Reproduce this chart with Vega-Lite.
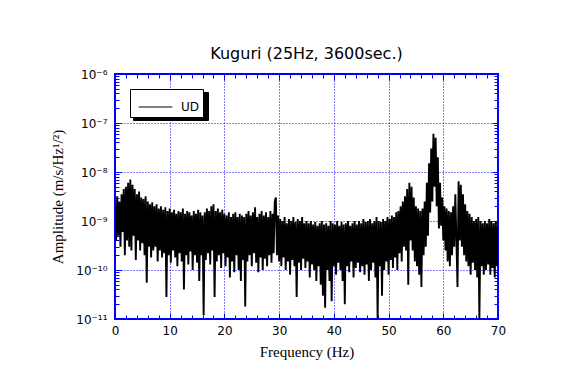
{
"$schema": "https://vega.github.io/schema/vega-lite/v6.json",
"width": 383,
"height": 245,
"autosize": {"type": "none"},
"padding": {"left": 115, "top": 74, "right": 77, "bottom": 49},
"background": "white",
"title": {"text": "Kuguri (25Hz, 3600sec.)", "font": "DejaVu Sans", "fontSize": 16, "fontWeight": "normal", "color": "black", "anchor": "middle", "offset": 6},
"config": {"view": {"stroke": "#0000ff", "strokeWidth": 2}},
"data": {"values": [
{"f":0,"a":2.0e-9},{"f":0.2,"a":4.0e-10},{"f":0.4,"a":3.2e-9},{"f":0.6,"a":5.0e-10},{"f":0.8,"a":2.5e-9},{"f":1.0,"a":3.0e-10},{"f":1.2,"a":3.5e-9},{"f":1.4,"a":6.0e-10},{"f":1.6,"a":4.5e-9},{"f":1.8,"a":2.0e-10},
{"f":2.0,"a":5.0e-9},{"f":2.2,"a":4.0e-10},{"f":2.4,"a":6.0e-9},{"f":2.6,"a":3.0e-10},{"f":2.8,"a":7.0e-9},{"f":3.0,"a":2.5e-10},{"f":3.2,"a":5.5e-9},{"f":3.4,"a":5.0e-10},{"f":3.6,"a":4.5e-9},{"f":3.8,"a":1.6e-10},
{"f":4.0,"a":3.5e-9},{"f":4.2,"a":4.0e-10},{"f":4.4,"a":4.0e-9},{"f":4.6,"a":2.5e-10},{"f":4.8,"a":3.0e-9},{"f":5.0,"a":3.5e-10},{"f":5.2,"a":2.8e-9},{"f":5.4,"a":2.0e-10},{"f":5.6,"a":3.2e-9},{"f":5.8,"a":5.5e-11},
{"f":6.0,"a":2.5e-9},{"f":6.2,"a":3.0e-10},{"f":6.4,"a":2.2e-9},{"f":6.6,"a":1.8e-10},{"f":6.8,"a":2.4e-9},{"f":7.0,"a":2.5e-10},{"f":7.2,"a":2.0e-9},{"f":7.4,"a":3.0e-10},{"f":7.6,"a":2.2e-9},{"f":7.8,"a":1.5e-10},
{"f":8.0,"a":1.8e-9},{"f":8.2,"a":2.5e-10},{"f":8.4,"a":2.0e-9},{"f":8.6,"a":1.8e-10},{"f":8.8,"a":1.7e-9},{"f":9.0,"a":2.2e-10},{"f":9.2,"a":1.9e-9},{"f":9.4,"a":2.8e-11},{"f":9.6,"a":1.6e-9},{"f":9.8,"a":2.0e-10},
{"f":10.0,"a":1.8e-9},{"f":10.2,"a":1.4e-10},{"f":10.4,"a":1.5e-9},{"f":10.6,"a":2.5e-10},{"f":10.8,"a":1.7e-9},{"f":11.0,"a":1.8e-10},{"f":11.2,"a":1.4e-9},{"f":11.4,"a":1.2e-10},{"f":11.6,"a":1.6e-9},{"f":11.8,"a":2.2e-10},
{"f":12.0,"a":1.5e-9},{"f":12.2,"a":1.5e-10},{"f":12.4,"a":1.8e-9},{"f":12.6,"a":4.0e-11},{"f":12.8,"a":1.4e-9},{"f":13.0,"a":2.0e-10},{"f":13.2,"a":1.6e-9},{"f":13.4,"a":1.3e-10},{"f":13.6,"a":1.5e-9},{"f":13.8,"a":2.4e-10},
{"f":14.0,"a":1.3e-9},{"f":14.2,"a":1.0e-10},{"f":14.4,"a":1.6e-9},{"f":14.6,"a":2.0e-10},{"f":14.8,"a":1.4e-9},{"f":15.0,"a":1.4e-10},{"f":15.2,"a":1.7e-9},{"f":15.4,"a":6.0e-11},{"f":15.6,"a":1.5e-9},{"f":15.8,"a":2.0e-10},
{"f":16.0,"a":1.3e-9},{"f":16.2,"a":1.2e-11},{"f":16.4,"a":1.5e-9},{"f":16.6,"a":1.6e-10},{"f":16.8,"a":1.8e-9},{"f":17.0,"a":2.2e-10},{"f":17.2,"a":1.6e-9},{"f":17.4,"a":1.3e-10},{"f":17.6,"a":2.0e-9},{"f":17.8,"a":2.5e-10},
{"f":18.0,"a":2.2e-9},{"f":18.2,"a":2.8e-11},{"f":18.4,"a":1.6e-9},{"f":18.6,"a":1.5e-10},{"f":18.8,"a":1.8e-9},{"f":19.0,"a":2.0e-10},{"f":19.2,"a":1.5e-9},{"f":19.4,"a":1.1e-10},{"f":19.6,"a":1.7e-9},{"f":19.8,"a":2.2e-10},
{"f":20.0,"a":1.4e-9},{"f":20.2,"a":1.2e-10},{"f":20.4,"a":1.3e-9},{"f":20.6,"a":1.8e-10},{"f":20.8,"a":1.5e-9},{"f":21.0,"a":7.0e-11},{"f":21.2,"a":1.2e-9},{"f":21.4,"a":1.5e-10},{"f":21.6,"a":1.4e-9},{"f":21.8,"a":9.0e-11},
{"f":22.0,"a":1.5e-9},{"f":22.2,"a":2.0e-10},{"f":22.4,"a":1.2e-9},{"f":22.6,"a":1.0e-10},{"f":22.8,"a":1.4e-9},{"f":23.0,"a":6.0e-11},{"f":23.2,"a":1.3e-9},{"f":23.4,"a":1.6e-10},{"f":23.6,"a":1.2e-9},{"f":23.8,"a":1.8e-11},
{"f":24.0,"a":1.4e-9},{"f":24.2,"a":1.5e-10},{"f":24.4,"a":1.6e-9},{"f":24.6,"a":2.0e-10},{"f":24.8,"a":1.3e-9},{"f":25.0,"a":1.2e-10},{"f":25.2,"a":1.5e-9},{"f":25.4,"a":2.2e-10},{"f":25.6,"a":1.9e-9},{"f":25.8,"a":1.4e-10},
{"f":26.0,"a":1.2e-9},{"f":26.2,"a":9.0e-11},{"f":26.4,"a":1.4e-9},{"f":26.6,"a":1.8e-10},{"f":26.8,"a":1.6e-9},{"f":27.0,"a":1.0e-10},{"f":27.2,"a":1.3e-9},{"f":27.4,"a":1.7e-10},{"f":27.6,"a":1.5e-9},{"f":27.8,"a":1.2e-10},
{"f":28.0,"a":1.2e-9},{"f":28.2,"a":2.0e-10},{"f":28.4,"a":1.6e-9},{"f":28.6,"a":1.4e-10},{"f":28.8,"a":1.4e-9},{"f":29.0,"a":2.2e-10},{"f":29.2,"a":2.5e-9},{"f":29.4,"a":3.0e-9},{"f":29.6,"a":2.0e-10},{"f":29.8,"a":1.3e-9},
{"f":30.0,"a":1.5e-10},{"f":30.2,"a":1.1e-9},{"f":30.4,"a":1.2e-10},{"f":30.6,"a":1.0e-9},{"f":30.8,"a":1.8e-10},{"f":31.0,"a":1.2e-9},{"f":31.2,"a":1.0e-10},{"f":31.4,"a":9.0e-10},{"f":31.6,"a":1.5e-10},{"f":31.8,"a":1.1e-9},
{"f":32.0,"a":8.0e-11},{"f":32.2,"a":1.0e-9},{"f":32.4,"a":1.6e-10},{"f":32.6,"a":1.2e-9},{"f":32.8,"a":1.2e-10},{"f":33.0,"a":9.5e-10},{"f":33.2,"a":2.8e-11},{"f":33.4,"a":1.1e-9},{"f":33.6,"a":1.4e-10},{"f":33.8,"a":1.0e-9},
{"f":34.0,"a":1.0e-10},{"f":34.2,"a":1.2e-9},{"f":34.4,"a":1.7e-10},{"f":34.6,"a":9.0e-10},{"f":34.8,"a":1.1e-10},{"f":35.0,"a":1.0e-9},{"f":35.2,"a":1.5e-10},{"f":35.4,"a":9.0e-10},{"f":35.6,"a":7.0e-11},{"f":35.8,"a":1.0e-9},
{"f":36.0,"a":1.3e-10},{"f":36.2,"a":8.5e-10},{"f":36.4,"a":1.0e-10},{"f":36.6,"a":9.5e-10},{"f":36.8,"a":6.0e-11},{"f":37.0,"a":8.0e-10},{"f":37.2,"a":1.2e-10},{"f":37.4,"a":9.0e-10},{"f":37.6,"a":5.0e-11},{"f":37.8,"a":1.0e-9},
{"f":38.0,"a":3.0e-11},{"f":38.2,"a":8.5e-10},{"f":38.4,"a":1.7e-11},{"f":38.6,"a":9.0e-10},{"f":38.8,"a":1.0e-10},{"f":39.0,"a":8.0e-10},{"f":39.2,"a":6.0e-11},{"f":39.4,"a":1.0e-9},{"f":39.6,"a":2.3e-11},{"f":39.8,"a":9.0e-10},
{"f":40.0,"a":1.2e-10},{"f":40.2,"a":8.5e-10},{"f":40.4,"a":8.0e-11},{"f":40.6,"a":1.0e-9},{"f":40.8,"a":1.4e-10},{"f":41.0,"a":8.0e-10},{"f":41.2,"a":1.0e-10},{"f":41.4,"a":9.5e-10},{"f":41.6,"a":6.0e-11},{"f":41.8,"a":8.5e-10},
{"f":42.0,"a":2.0e-11},{"f":42.2,"a":9.0e-10},{"f":42.4,"a":1.2e-10},{"f":42.6,"a":1.0e-9},{"f":42.8,"a":9.0e-11},{"f":43.0,"a":8.0e-10},{"f":43.2,"a":1.5e-10},{"f":43.4,"a":9.0e-10},{"f":43.6,"a":7.0e-11},{"f":43.8,"a":1.0e-9},
{"f":44.0,"a":1.1e-10},{"f":44.2,"a":8.5e-10},{"f":44.4,"a":1.4e-10},{"f":44.6,"a":1.0e-9},{"f":44.8,"a":9.0e-11},{"f":45.0,"a":9.0e-10},{"f":45.2,"a":1.2e-10},{"f":45.4,"a":1.1e-9},{"f":45.6,"a":8.0e-11},{"f":45.8,"a":9.5e-10},
{"f":46.0,"a":1.3e-10},{"f":46.2,"a":1.0e-9},{"f":46.4,"a":6.0e-11},{"f":46.6,"a":1.1e-9},{"f":46.8,"a":1.0e-10},{"f":47.0,"a":9.0e-10},{"f":47.2,"a":1.4e-10},{"f":47.4,"a":1.0e-9},{"f":47.6,"a":7.0e-11},{"f":47.8,"a":1.2e-9},
{"f":48.0,"a":1.0e-11},{"f":48.2,"a":1.0e-9},{"f":48.4,"a":1.2e-10},{"f":48.6,"a":9.5e-10},{"f":48.8,"a":3.0e-11},{"f":49.0,"a":1.1e-9},{"f":49.2,"a":1.0e-10},{"f":49.4,"a":1.0e-9},{"f":49.6,"a":1.5e-10},{"f":49.8,"a":1.2e-9},
{"f":50.0,"a":8.0e-11},{"f":50.2,"a":1.1e-9},{"f":50.4,"a":1.6e-10},{"f":50.6,"a":1.3e-9},{"f":50.8,"a":1.1e-10},{"f":51.0,"a":1.2e-9},{"f":51.2,"a":1.8e-10},{"f":51.4,"a":1.5e-9},{"f":51.6,"a":1.0e-10},{"f":51.8,"a":1.6e-9},
{"f":52.0,"a":2.2e-10},{"f":52.2,"a":2.0e-9},{"f":52.4,"a":1.5e-10},{"f":52.6,"a":2.5e-9},{"f":52.8,"a":3.0e-10},{"f":53.0,"a":3.2e-9},{"f":53.2,"a":2.5e-10},{"f":53.4,"a":4.5e-9},{"f":53.6,"a":5.0e-11},{"f":53.8,"a":6.0e-9},
{"f":54.0,"a":4.0e-10},{"f":54.2,"a":5.0e-9},{"f":54.4,"a":2.5e-10},{"f":54.6,"a":3.0e-9},{"f":54.8,"a":1.5e-10},{"f":55.0,"a":2.0e-9},{"f":55.2,"a":1.2e-10},{"f":55.4,"a":1.8e-9},{"f":55.6,"a":8.0e-11},{"f":55.8,"a":1.6e-9},
{"f":56.0,"a":4.5e-11},{"f":56.2,"a":1.8e-9},{"f":56.4,"a":2.0e-10},{"f":56.6,"a":2.5e-9},{"f":56.8,"a":3.0e-10},{"f":57.0,"a":6.0e-9},{"f":57.2,"a":5.0e-10},{"f":57.4,"a":1.5e-8},{"f":57.6,"a":1.5e-9},{"f":57.8,"a":3.0e-8},
{"f":58.0,"a":2.5e-9},{"f":58.2,"a":6.0e-8},{"f":58.4,"a":5.0e-9},{"f":58.6,"a":5.0e-8},{"f":58.8,"a":2.0e-9},{"f":59.0,"a":2.0e-8},{"f":59.2,"a":7.0e-10},{"f":59.4,"a":6.0e-9},{"f":59.6,"a":8.0e-10},{"f":59.8,"a":3.0e-9},
{"f":60.0,"a":4.0e-10},{"f":60.2,"a":2.0e-9},{"f":60.4,"a":2.5e-10},{"f":60.6,"a":1.8e-9},{"f":60.8,"a":1.5e-10},{"f":61.0,"a":1.6e-9},{"f":61.2,"a":1.2e-10},{"f":61.4,"a":1.5e-9},{"f":61.6,"a":2.0e-10},{"f":61.8,"a":2.0e-9},
{"f":62.0,"a":3.0e-10},{"f":62.2,"a":3.5e-9},{"f":62.4,"a":4.0e-10},{"f":62.6,"a":4.5e-11},{"f":62.8,"a":6.5e-9},{"f":63.0,"a":4.0e-10},{"f":63.2,"a":5.5e-9},{"f":63.4,"a":3.0e-10},{"f":63.6,"a":3.5e-9},{"f":63.8,"a":2.0e-10},
{"f":64.0,"a":2.2e-9},{"f":64.2,"a":1.5e-10},{"f":64.4,"a":1.6e-9},{"f":64.6,"a":1.2e-10},{"f":64.8,"a":1.4e-9},{"f":65.0,"a":8.0e-11},{"f":65.2,"a":1.2e-9},{"f":65.4,"a":1.4e-10},{"f":65.6,"a":1.0e-9},{"f":65.8,"a":1.0e-10},
{"f":66.0,"a":1.1e-9},{"f":66.2,"a":7.0e-11},{"f":66.4,"a":1.2e-9},{"f":66.6,"a":1.0e-11},{"f":66.8,"a":1.0e-9},{"f":67.0,"a":1.2e-10},{"f":67.2,"a":9.0e-10},{"f":67.4,"a":8.0e-11},{"f":67.6,"a":1.0e-9},{"f":67.8,"a":1.0e-10},
{"f":68.0,"a":9.0e-10},{"f":68.2,"a":1.3e-10},{"f":68.4,"a":1.1e-9},{"f":68.6,"a":8.0e-11},{"f":68.8,"a":1.0e-9},{"f":69.0,"a":1.1e-10},{"f":69.2,"a":9.0e-10},{"f":69.4,"a":7.0e-11},{"f":69.6,"a":1.0e-9},{"f":69.8,"a":1.2e-10},
{"f":70.0,"a":8.0e-10}
]},
"layer": [
{
"mark": {"type": "line", "opacity": 0},
"encoding": {
"x": {"field": "f", "type": "quantitative",
"axis": {"orient": "top", "title": null, "labels": false, "domain": false, "grid": false,
"values": [0,2,4,6,8,10,12,14,16,18,20,22,24,26,28,30,32,34,36,38,40,42,44,46,48,50,52,54,56,58,60,62,64,66,68,70],
"tickColor": "#0000ff", "tickSize": {"condition": {"test": "datum.value % 10 === 0", "value": -6}, "value": -4}}},
"y": {"field": "a", "type": "quantitative",
"axis": {"orient": "right", "title": null, "labels": false, "domain": false, "grid": false,
"values": [1e-11,2e-11,3e-11,4e-11,5e-11,6e-11,7e-11,8e-11,9e-11,1e-10,2e-10,3e-10,4e-10,5e-10,6e-10,7e-10,8e-10,9e-10,1e-9,2e-9,3e-9,4e-9,5e-9,6e-9,7e-9,8e-9,9e-9,1e-8,2e-8,3e-8,4e-8,5e-8,6e-8,7e-8,8e-8,9e-8,1e-7,2e-7,3e-7,4e-7,5e-7,6e-7,7e-7,8e-7,9e-7,1e-6],
"tickColor": "#0000ff", "tickSize": {"condition": {"test": "abs(log(datum.value)/LN10 - round(log(datum.value)/LN10)) < 0.001", "value": -6}, "value": -4}}},
"color": {"datum": "shadow", "type": "nominal", "scale": {"range": ["black"]},
"legend": {"title": null, "orient": "none", "legendX": 18, "legendY": 18, "fillColor": "black", "strokeColor": "black", "padding": 3.5,
"symbolType": "M-1.2,0H1.2", "symbolSize": 784, "symbolOffset": 7.5, "symbolStrokeWidth": 1, "labelFont": "DejaVu Sans", "labelFontSize": 12, "labelColor": "black", "labelOffset": 31, "labelExpr": "'\u00a0\u00a0\u00a0\u00a0\u00a0\u00a0\u00a0'", "cornerRadius": 0}}
}
},
{
"mark": {"type": "line", "strokeWidth": 1.9, "strokeJoin": "bevel", "clip": true},
"encoding": {
"x": {"field": "f", "type": "quantitative", "title": "Frequency (Hz)",
"scale": {"domain": [0, 70], "nice": false, "zero": false},
"axis": {"orient": "bottom", "values": [0,2,4,6,8,10,12,14,16,18,20,22,24,26,28,30,32,34,36,38,40,42,44,46,48,50,52,54,56,58,60,62,64,66,68,70],
"labelExpr": "datum.value % 10 === 0 ? datum.label : ''",
"domain": false, "grid": true, "gridColor": "#0000ff", "gridDash": [1, 2], "gridWidth": 1,
"gridOpacity": {"condition": {"test": "datum.value % 10 === 0", "value": 1}, "value": 0},
"tickColor": "#0000ff", "tickWidth": 1,
"tickSize": {"condition": {"test": "datum.value % 10 === 0", "value": -6}, "value": -4},
"labelFont": "DejaVu Sans", "labelFontSize": 12, "labelColor": "black", "labelPadding": 12, "labelFlush": false,
"titleFont": "Liberation Serif", "titleFontSize": 15, "titleFontWeight": "normal", "titleColor": "black", "titlePadding": 8}},
"y": {"field": "a", "type": "quantitative", "title": "Amplitude (m/s/Hz¹/²)",
"scale": {"type": "log", "domain": [1e-11, 1e-6], "nice": false},
"axis": {"orient": "left", "values": [1e-11,2e-11,3e-11,4e-11,5e-11,6e-11,7e-11,8e-11,9e-11,1e-10,2e-10,3e-10,4e-10,5e-10,6e-10,7e-10,8e-10,9e-10,1e-9,2e-9,3e-9,4e-9,5e-9,6e-9,7e-9,8e-9,9e-9,1e-8,2e-8,3e-8,4e-8,5e-8,6e-8,7e-8,8e-8,9e-8,1e-7,2e-7,3e-7,4e-7,5e-7,6e-7,7e-7,8e-7,9e-7,1e-6],
"labelExpr": "datum.value == 1e-6 ? '10⁻⁶' : datum.value == 1e-7 ? '10⁻⁷' : datum.value == 1e-8 ? '10⁻⁸' : datum.value == 1e-9 ? '10⁻⁹' : datum.value == 1e-10 ? '10⁻¹⁰' : datum.value == 1e-11 ? '10⁻¹¹' : ''",
"domain": false, "grid": true, "gridColor": "#0000ff", "gridDash": [1, 2], "gridWidth": 1,
"gridOpacity": {"condition": {"test": "abs(log(datum.value)/LN10 - round(log(datum.value)/LN10)) < 0.001", "value": 1}, "value": 0},
"tickColor": "#0000ff", "tickWidth": 1,
"tickSize": {"condition": {"test": "abs(log(datum.value)/LN10 - round(log(datum.value)/LN10)) < 0.001", "value": -6}, "value": -4},
"labelFont": "DejaVu Sans", "labelFontSize": 12, "labelColor": "black", "labelPadding": 14, "labelFlush": false,
"titleFont": "Liberation Serif", "titleFontSize": 15, "titleFontWeight": "normal", "titleColor": "black", "titlePadding": 10}},
"stroke": {"datum": "UD", "type": "nominal", "scale": {"range": ["black"]},
"legend": {"title": null, "orient": "none", "legendX": 15, "legendY": 15, "fillColor": "white", "strokeColor": "black", "padding": 3.5,
"symbolType": "M-1.2,0H1.2", "symbolSize": 784, "symbolOffset": 7.5, "symbolStrokeWidth": 1, "labelFont": "DejaVu Sans", "labelFontSize": 12, "labelColor": "black", "labelOffset": 11, "labelExpr": "'UD  '", "cornerRadius": 0}}
}
}
],
"resolve": {"axis": {"x": "independent", "y": "independent"}}
}
